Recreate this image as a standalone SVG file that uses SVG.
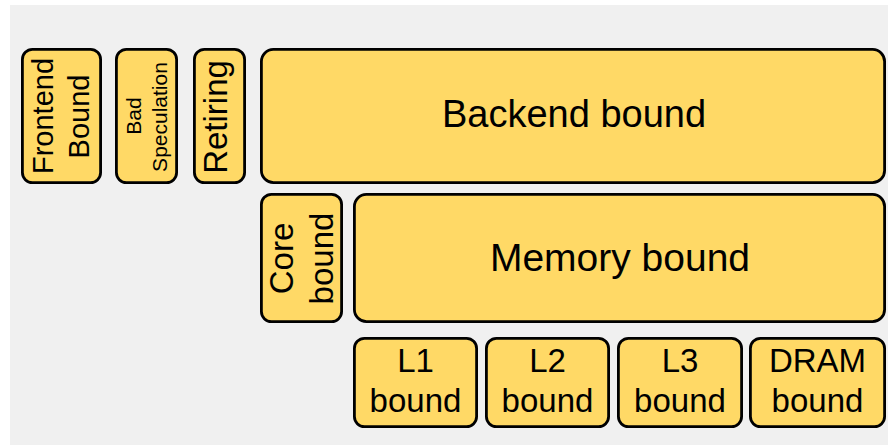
<svg xmlns="http://www.w3.org/2000/svg" width="888" height="445" viewBox="0 0 888 445">
  <style>
    .box { fill: #FFD966; stroke: #000; stroke-width: 2.8; }
    .lbl { font-family: "Liberation Sans", Arial, sans-serif; fill: #000; text-anchor: middle; }
  </style>
  <rect x="0" y="0" width="888" height="445" fill="#ffffff"/>
  <rect x="10" y="5" width="878" height="440" fill="#f0f0f0"/>

  <!-- top level categories -->
  <g id="frontend-bound">
    <rect class="box" x="22.4" y="49.4" width="78.2" height="133.2" rx="10"/>
    <text class="lbl" font-size="29" transform="translate(53,116) rotate(-90)">Frontend</text>
    <text class="lbl" font-size="29" transform="translate(89,116.5) rotate(-90)">Bound</text>
  </g>
  <g id="bad-speculation">
    <rect class="box" x="116.4" y="49.4" width="60.2" height="133.2" rx="10"/>
    <text class="lbl" font-size="21" transform="translate(141,116) rotate(-90)">Bad</text>
    <text class="lbl" font-size="21" transform="translate(167,117) rotate(-90)">Speculation</text>
  </g>
  <g id="retiring">
    <rect class="box" x="194.4" y="49.4" width="50.2" height="133.2" rx="10"/>
    <text class="lbl" font-size="33" transform="translate(227,117) rotate(-90)">Retiring</text>
  </g>
  <g id="backend-bound">
    <rect class="box" x="261.4" y="49.4" width="623.2" height="133.2" rx="12"/>
    <text class="lbl" font-size="38" x="574" y="127">Backend bound</text>
  </g>

  <!-- backend breakdown -->
  <g id="core-bound">
    <rect class="box" x="261.4" y="194.4" width="80.2" height="127.2" rx="10"/>
    <text class="lbl" font-size="33" transform="translate(293,258.5) rotate(-90)">Core</text>
    <text class="lbl" font-size="33" transform="translate(333,258.5) rotate(-90)">bound</text>
  </g>
  <g id="memory-bound">
    <rect class="box" x="354.4" y="194.4" width="530.2" height="127.2" rx="12"/>
    <text class="lbl" font-size="39" x="620" y="271">Memory bound</text>
  </g>

  <!-- memory hierarchy levels -->
  <g id="l1-bound">
    <rect class="box" x="354.4" y="338.4" width="122.2" height="88.2" rx="10"/>
    <text class="lbl" font-size="33" x="415.5" y="372">L1</text>
    <text class="lbl" font-size="33" x="415.5" y="412">bound</text>
  </g>
  <g id="l2-bound">
    <rect class="box" x="486.4" y="338.4" width="122.2" height="88.2" rx="10"/>
    <text class="lbl" font-size="33" x="547.5" y="372">L2</text>
    <text class="lbl" font-size="33" x="547.5" y="412">bound</text>
  </g>
  <g id="l3-bound">
    <rect class="box" x="618.4" y="338.4" width="123.2" height="88.2" rx="10"/>
    <text class="lbl" font-size="33" x="680" y="372">L3</text>
    <text class="lbl" font-size="33" x="680" y="412">bound</text>
  </g>
  <g id="dram-bound">
    <rect class="box" x="750.4" y="338.4" width="134.2" height="88.2" rx="10"/>
    <text class="lbl" font-size="33" x="817.5" y="372">DRAM</text>
    <text class="lbl" font-size="33" x="817.5" y="412">bound</text>
  </g>

  <g id="connectors"></g>
</svg>
